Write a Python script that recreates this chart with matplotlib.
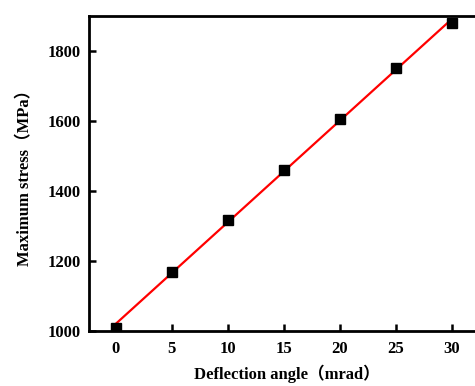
import numpy as np
import matplotlib.pyplot as plt

# dati
angolo = [0, 5, 10, 15, 20, 25, 30]
sforzo = [1009, 1169, 1316, 1460, 1607, 1751, 1879]

plt.rcParams['font.family'] = ['Liberation Serif', 'Noto Sans CJK SC']
plt.rcParams['font.weight'] = 'bold'

fig = plt.figure(figsize=(4.75, 3.86), dpi=100)
ax = fig.add_axes([0.187, 0.1425, 0.835, 0.816])

# retta di fit
p = np.polyfit(angolo, sforzo, 1)
xx = np.array([0, 30])
ax.plot(xx, np.polyval(p, xx), color='red', lw=1.6, zorder=2)
ax.plot(angolo, sforzo, 's', color='black', ms=6.5, zorder=3)

ax.set_xlim(-2.4, 33)
ax.set_ylim(1000, 1900)
ax.set_xticks([0, 5, 10, 15, 20, 25, 30])
ax.set_yticks([1000, 1200, 1400, 1600, 1800])

for s in ax.spines.values():
    s.set_linewidth(2)
ax.tick_params(direction='in', length=5, width=1.8, labelsize=12)
ax.tick_params(axis='y', pad=6)
ax.tick_params(axis='x', pad=7)
for lab in ax.get_xticklabels() + ax.get_yticklabels():
    lab.set_fontweight('bold')

ax.set_xlabel('Deflection angle（mrad）', fontsize=12, fontweight='bold', labelpad=6)
ax.set_ylabel('Maximum stress（MPa）', fontsize=12, fontweight='bold', labelpad=10)

fig.savefig('out.png', dpi=100)
